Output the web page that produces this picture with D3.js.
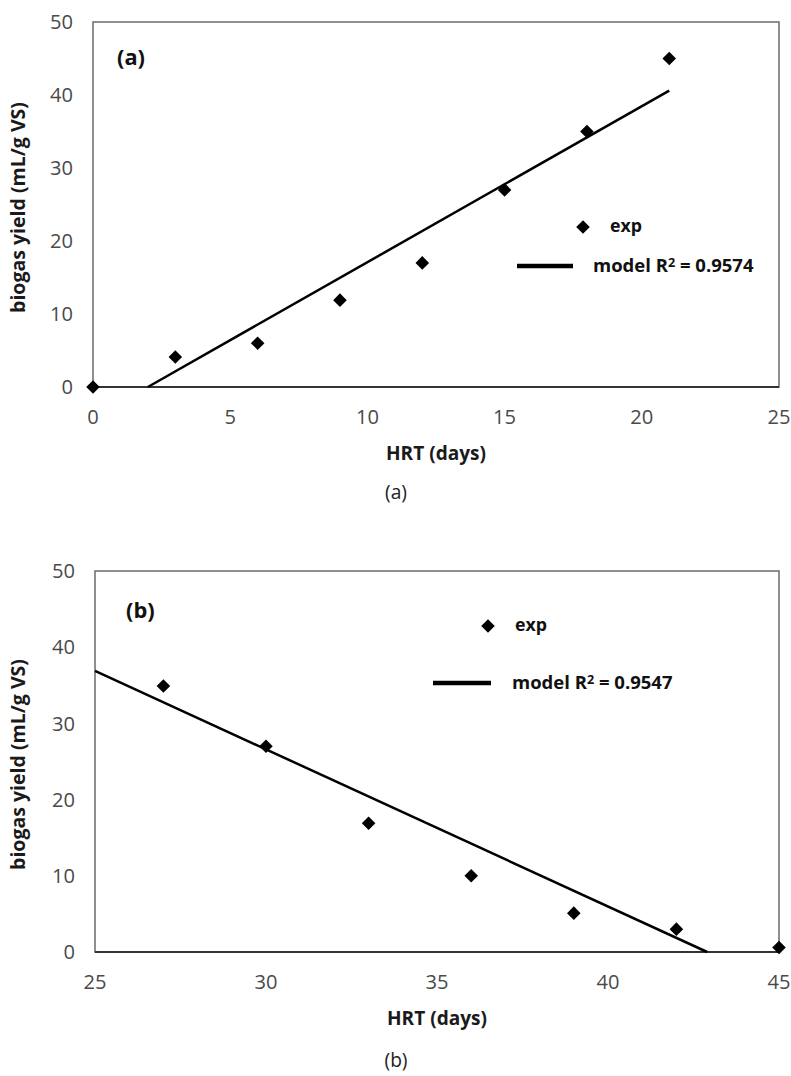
<!DOCTYPE html>
<html>
<head>
<meta charset="utf-8">
<script src="https://cdn.jsdelivr.net/npm/d3@7"></script>
<style>
  body { margin: 0; background: #fff; }
  text { font-family: "Open Sans", sans-serif; }
</style>
</head>
<body>
<div id="chart"></div>
<script>
// panel (a): HRT 0-21 days
const hrtA = [0, 3, 6, 9, 12, 15, 18, 21];
const yieldA = [0, 4.1, 6, 11.9, 17, 27, 35, 45];
const modelA = [[2, 0], [21, 40.6]];
const r2A = "0.9574";
const xTicksA = [0, 5, 10, 15, 20, 25];

// panel (b): HRT 27-45 days
const hrtB = [27, 30, 33, 36, 39, 42, 45];
const yieldB = [34.9, 27, 16.9, 10, 5.1, 3, 0.6];
const modelB = [[25, 36.9], [42.9, 0]];
const r2B = "0.9547";
const xTicksB = [25, 30, 35, 40, 45];

const yTicks = [0, 10, 20, 30, 40, 50];

const W = 791, H = 1076;

const svg = d3.select("#chart")
  .append("svg")
  .attr("width", W)
  .attr("height", H);

// pick a font size so a string takes the width it has in the picture
function fitSize(str, weight, family, target) {
  const t = svg.append("text")
    .attr("font-size", 20)
    .attr("font-weight", weight)
    .attr("font-family", family)
    .text(str);
  const w = t.node().getComputedTextLength();
  t.remove();
  return 20 * target / w;
}

const sans = "Open Sans, sans-serif";
const tickSize = fitSize("50", "normal", sans, 23);
const yTitleSize = fitSize("biogas yield (mL/g VS)", "bold", sans, 211);
const xTitleSize = fitSize("HRT (days)", "bold", sans, 100);
const tagSize = fitSize("(a)", "bold", sans, 28);
const expSize = fitSize("exp", "bold", sans, 32);
const modelSize = fitSize("model R2 = 0.9574", "bold", sans, 164);
const capSize = fitSize("(a)", "normal", "Liberation Serif, serif", 22);

const panels = [
  { tag: "(a)", caption: "(a)", hrt: hrtA, yld: yieldA, model: modelA, r2: r2A, xTicks: xTicksA,
    x0: 93, x1: 779, y0: 22, y1: 387,
    tagPos: [117, 57], legExp: [583, 227, 610], legLine: [517, 573, 266, 593], captionY: 492 },
  { tag: "(b)", caption: "(b)", hrt: hrtB, yld: yieldB, model: modelB, r2: r2B, xTicks: xTicksB,
    x0: 95, x1: 779, y0: 571, y1: 952,
    tagPos: [126, 610], legExp: [488, 626, 515], legLine: [433, 491, 683, 512], captionY: 1060 }
];

panels.forEach(function (p) {
  const x = d3.scaleLinear().domain(d3.extent(p.xTicks)).range([p.x0, p.x1]);
  const y = d3.scaleLinear().domain([0, 50]).range([p.y1, p.y0]);

  const g = svg.append("g");

  // plot area frame
  g.append("rect")
    .attr("x", p.x0).attr("y", p.y0)
    .attr("width", p.x1 - p.x0).attr("height", p.y1 - p.y0)
    .attr("fill", "none")
    .attr("stroke", "#6b6b6b")
    .attr("stroke-width", 1.5);

  // x axis line (darker)
  g.append("line")
    .attr("x1", p.x0).attr("x2", p.x1)
    .attr("y1", y(0)).attr("y2", y(0))
    .attr("stroke", "#333")
    .attr("stroke-width", 1.8);

  // y tick labels
  g.selectAll(".ytick")
    .data(yTicks)
    .enter()
    .append("text")
    .attr("class", "ytick")
    .attr("x", p.x0 - 20)
    .attr("y", function (d) { return y(d); })
    .attr("dy", "0.36em")
    .attr("text-anchor", "end")
    .attr("font-size", tickSize)
    .attr("fill", "#4a4a4a")
    .text(function (d) { return d; });

  // x tick labels
  g.selectAll(".xtick")
    .data(p.xTicks)
    .enter()
    .append("text")
    .attr("class", "xtick")
    .attr("x", function (d) { return x(d); })
    .attr("y", p.y1 + 30)
    .attr("dy", "0.36em")
    .attr("text-anchor", "middle")
    .attr("font-size", tickSize)
    .attr("fill", "#4a4a4a")
    .text(function (d) { return d; });

  // axis titles
  g.append("text")
    .attr("transform", "translate(19," + ((p.y0 + p.y1) / 2 + 3) + ") rotate(-90)")
    .attr("text-anchor", "middle")
    .attr("dy", "0.32em")
    .attr("font-size", yTitleSize)
    .attr("font-weight", "bold")
    .attr("fill", "#1a1a1a")
    .text("biogas yield (mL/g VS)");

  g.append("text")
    .attr("x", (p.x0 + p.x1) / 2)
    .attr("y", p.y1 + 66)
    .attr("dy", "0.35em")
    .attr("text-anchor", "middle")
    .attr("font-size", xTitleSize)
    .attr("font-weight", "bold")
    .attr("fill", "#1a1a1a")
    .text("HRT (days)");

  // panel tag
  g.append("text")
    .attr("x", p.tagPos[0])
    .attr("y", p.tagPos[1])
    .attr("dy", "0.35em")
    .attr("font-size", tagSize)
    .attr("font-weight", "bold")
    .attr("fill", "#111")
    .text(p.tag);

  // model line
  const line = d3.line()
    .x(function (d) { return x(d[0]); })
    .y(function (d) { return y(d[1]); });

  g.append("path")
    .datum(p.model)
    .attr("d", line)
    .attr("fill", "none")
    .attr("stroke", "#000")
    .attr("stroke-width", 2.5);

  // experimental points
  const diamond = d3.symbol().type(d3.symbolSquare).size(92);
  g.selectAll(".pt")
    .data(p.hrt.map(function (h, i) { return [h, p.yld[i]]; }))
    .enter()
    .append("path")
    .attr("class", "pt")
    .attr("d", diamond)
    .attr("transform", function (d) { return "translate(" + x(d[0]) + "," + y(d[1]) + ") rotate(45)"; })
    .attr("fill", "#000");

  // legend
  g.append("path")
    .attr("d", diamond)
    .attr("transform", "translate(" + p.legExp[0] + "," + p.legExp[1] + ") rotate(45)")
    .attr("fill", "#000");
  g.append("text")
    .attr("x", p.legExp[2])
    .attr("y", p.legExp[1])
    .attr("dy", "0.3em")
    .attr("font-size", expSize)
    .attr("font-weight", "bold")
    .attr("fill", "#111")
    .text("exp");

  g.append("line")
    .attr("x1", p.legLine[0]).attr("x2", p.legLine[1])
    .attr("y1", p.legLine[2]).attr("y2", p.legLine[2])
    .attr("stroke", "#000")
    .attr("stroke-width", 4.5);
  const mt = g.append("text")
    .attr("x", p.legLine[3])
    .attr("y", p.legLine[2])
    .attr("dy", "0.35em")
    .attr("font-size", modelSize)
    .attr("font-weight", "bold")
    .attr("fill", "#111");
  mt.append("tspan").text("model R");
  mt.append("tspan").attr("dy", "-0.4em").attr("font-size", modelSize * 0.68).text("2");
  mt.append("tspan").attr("dy", "0.27em").text(" = " + p.r2);

  // caption
  svg.append("text")
    .attr("x", 396)
    .attr("y", p.captionY)
    .attr("dy", "0.35em")
    .attr("text-anchor", "middle")
    .attr("font-size", capSize)
    .attr("font-family", "Liberation Serif, serif")
    .attr("fill", "#222")
    .text(p.caption);
});
</script>
</body>
</html>
